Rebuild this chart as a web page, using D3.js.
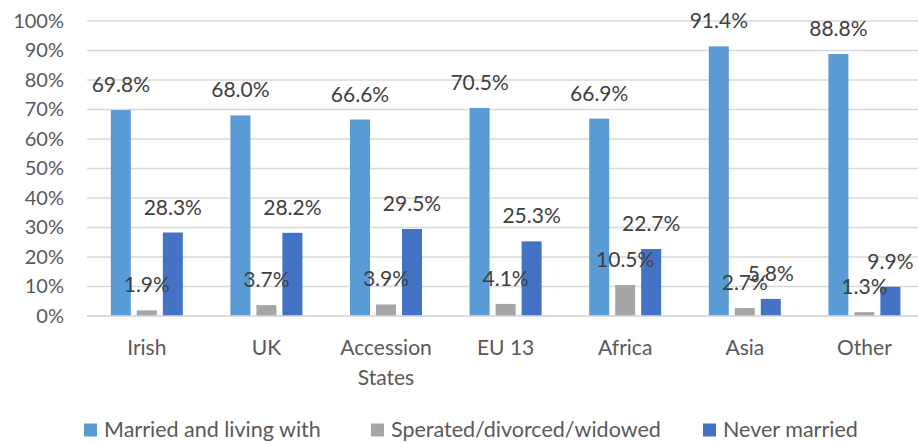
<!DOCTYPE html>
<html>
<head>
<meta charset="utf-8">
<script src="https://cdn.jsdelivr.net/npm/d3@7"></script>
<style>
  html, body { margin: 0; padding: 0; background: #fff; }
  svg { display: block; font-family: Lato, "Open Sans", sans-serif; }
</style>
</head>
<body>
<svg id="chart" width="918" height="443"></svg>
<script>
const categories = ["Irish", "UK", "Accession States", "EU 13", "Africa", "Asia", "Other"];
const seriesNames = ["Married and living with", "Sperated/divorced/widowed", "Never married"];
const married = [69.8, 68.0, 66.6, 70.5, 66.9, 91.4, 88.8];
const separated = [1.9, 3.7, 3.9, 4.1, 10.5, 2.7, 1.3];
const never = [28.3, 28.2, 29.5, 25.3, 22.7, 5.8, 9.9];
const yTicks = [0, 10, 20, 30, 40, 50, 60, 70, 80, 90, 100];
const colors = ["#5B9BD5", "#A5A5A5", "#4472C4"];

const seriesValues = [married, separated, never];

const svg = d3.select("#chart");
const plotLeft = 87, plotRight = 924.2, plotTop = 21, plotBottom = 316;

const x0 = d3.scaleBand().domain(categories).range([plotLeft, plotRight]).padding(0);
const x1 = d3.scaleBand().domain(seriesNames).range([0, 72]).paddingInner(6 / 26).paddingOuter(0);
const y = d3.scaleLinear().domain([0, 100]).range([plotBottom, plotTop]);

// gridlines
svg.append("g").selectAll("line").data(yTicks).join("line")
  .attr("x1", plotLeft).attr("x2", 918)
  .attr("y1", d => y(d)).attr("y2", d => y(d))
  .attr("stroke", "#D9D9D9").attr("stroke-width", 1.3);

// y axis labels
const yAxis = d3.axisLeft(y).tickValues(yTicks).tickSize(0).tickPadding(0)
  .tickFormat(d => d + "%");
const yg = svg.append("g").attr("transform", `translate(64,0)`).call(yAxis);
yg.select(".domain").remove();
yg.selectAll("text").attr("font-size", 20).attr("fill", "#595959")
  .attr("font-family", "Lato, 'Open Sans', sans-serif");

// bars
const groups = svg.append("g").selectAll("g").data(categories).join("g")
  .attr("transform", c => `translate(${x0(c) + x0.bandwidth() / 2 - 36},0)`);

groups.each(function(c, i) {
  const g = d3.select(this);
  const data = seriesNames.map((s, k) => ({ s, k, v: seriesValues[k][i] }));
  g.selectAll("rect").data(data).join("rect")
    .attr("x", d => x1(d.s)).attr("width", x1.bandwidth())
    .attr("y", d => y(d.v)).attr("height", d => y(0) - y(d.v))
    .attr("fill", d => colors[d.k]);
  g.selectAll("text").data(data).join("text")
    .attr("x", d => x1(d.s) + x1.bandwidth() / 2)
    .attr("y", d => y(d.v) - 18)
    .attr("text-anchor", "middle")
    .attr("font-size", 21)
    .attr("fill", "#404040")
    .text(d => d.v.toFixed(1) + "%");
});

// x axis baseline
svg.append("line").attr("x1", plotLeft).attr("x2", 918)
  .attr("y1", y(0)).attr("y2", y(0))
  .attr("stroke", "#D9D9D9").attr("stroke-width", 1.3);

// x axis labels
const xAxis = d3.axisBottom(x0).tickSize(0).tickPadding(0);
const xg = svg.append("g").call(xAxis);
xg.select(".domain").remove();
xg.selectAll("text").remove();
xg.selectAll(".tick").each(function(c) {
  const words = c === "Accession States" ? ["Accession", "States"] : [c];
  const t = d3.select(this).append("text")
    .attr("text-anchor", "middle").attr("font-size", 21).attr("fill", "#595959")
    .attr("font-family", "Lato, 'Open Sans', sans-serif");
  words.forEach((w, j) => t.append("tspan").attr("x", 0).attr("y", 355 + j * 30).text(w));
});

// legend
const legendX = [84, 371, 703];
const lg = svg.append("g").selectAll("g").data(seriesNames).join("g")
  .attr("transform", (d, i) => `translate(${legendX[i]},423.5)`);
lg.append("rect").attr("width", 13).attr("height", 13).attr("fill", (d, i) => colors[i]);
lg.append("text").attr("x", 20).attr("y", 13.5).attr("font-size", 21.5).attr("fill", "#595959")
  .text(d => d);
</script>
</body>
</html>
